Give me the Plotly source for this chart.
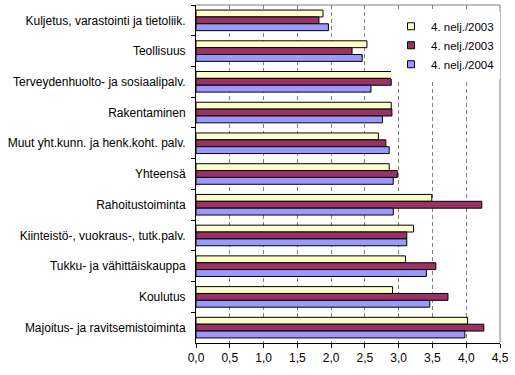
import plotly.graph_objects as go

categories = [
    "Kuljetus, varastointi ja tietoliik.",
    "Teollisuus",
    "Terveydenhuolto- ja sosiaalipalv.",
    "Rakentaminen",
    "Muut yht.kunn. ja henk.koht. palv.",
    "Yhteensä",
    "Rahoitustoiminta",
    "Kiinteistö-, vuokraus-, tutk.palv.",
    "Tukku- ja vähittäiskauppa",
    "Koulutus",
    "Majoitus- ja ravitsemistoiminta",
]
series_names = ["4. nelj./2003", "4. nelj./2003", "4. nelj./2004"]
values_a = [1.88, 2.53, 2.93, 2.89, 2.70, 2.86, 3.49, 3.22, 3.10, 2.91, 4.02]
values_b = [1.82, 2.31, 2.89, 2.90, 2.81, 2.98, 4.23, 3.12, 3.55, 3.73, 4.26]
values_c = [1.96, 2.46, 2.59, 2.76, 2.86, 2.92, 2.92, 3.12, 3.41, 3.46, 3.98]
colors = ["#FFFFCC", "#993366", "#9999FF"]
tick_vals = [0, 0.5, 1, 1.5, 2, 2.5, 3, 3.5, 4, 4.5]
tick_text = ["0,0", "0,5", "1,0", "1,5", "2,0", "2,5", "3,0", "3,5", "4,0", "4,5"]

fig = go.Figure()
for name, vals, col in zip(series_names, [values_a, values_b, values_c], colors):
    fig.add_trace(go.Bar(
        y=categories, x=vals, orientation="h", name=name, showlegend=False,
        marker=dict(color=col, line=dict(color="black", width=1)),
    ))
# legend entries as small squares
for i, (name, col) in enumerate(zip(series_names, colors)):
    fig.add_trace(go.Scatter(
        x=[None], y=[None], mode="markers", name=name, legendgroup=f"g{i}",
        marker=dict(symbol="square", size=7, color=col, line=dict(color="black", width=1)),
    ))

font = "Liberation Sans, Arial, sans-serif"
fig.update_layout(
    width=515, height=375,
    margin=dict(l=196, r=15, t=5, b=32),
    paper_bgcolor="white", plot_bgcolor="white",
    barmode="group", bargap=0.33, bargroupgap=0,
    font=dict(family=font, size=12, color="black"),
    showlegend=True,
    legend=dict(
        x=1.0, y=0.98, xanchor="right", yanchor="top",
        bgcolor="white", borderwidth=0,
        font=dict(family=font, size=11.5),
        traceorder="grouped", itemwidth=30,
        tracegroupgap=0,
    ),
    xaxis=dict(
        range=[0, 4.5], tickvals=tick_vals, ticktext=tick_text,
        showgrid=True, gridcolor="#808080", griddash="4px,3px", gridwidth=1,
        showline=True, linecolor="black", linewidth=1,
        ticks="outside", ticklen=4, tickcolor="black",
        zeroline=False, fixedrange=True, automargin=False,
        tickfont=dict(size=12),
    ),
    yaxis=dict(
        autorange="reversed", type="category",
        showline=True, linecolor="black", linewidth=1,
        ticks="outside", ticklen=4, tickcolor="black", tickson="boundaries",
        showgrid=False, fixedrange=True, automargin=False,
        tickfont=dict(size=12), ticklabelstandoff=7,
    ),
    shapes=[
        dict(type="line", xref="paper", yref="paper", x0=0, x1=1, y0=1, y1=1,
             line=dict(color="#808080", width=1)),
        dict(type="line", xref="paper", yref="paper", x0=1, x1=1, y0=0, y1=1,
             line=dict(color="#808080", width=1)),
    ],
)

fig.write_html("out.html", config={"displayModeBar": False},
               post_script="document.body.style.margin='0';")
